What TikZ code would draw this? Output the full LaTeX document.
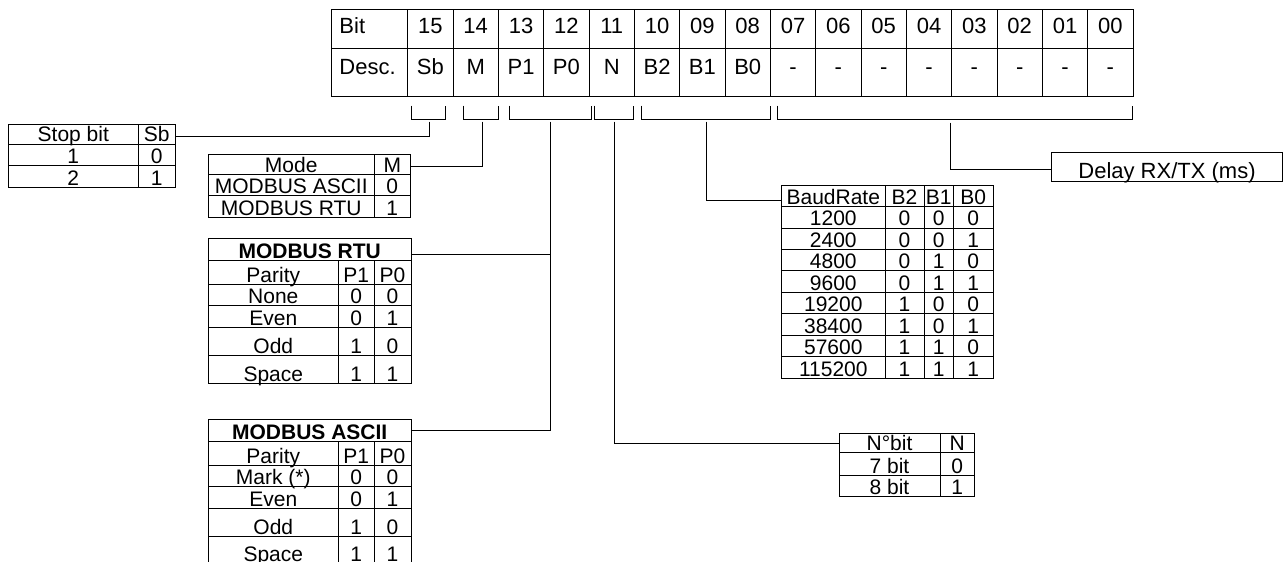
\documentclass[tikz,border=0pt]{standalone}
\usepackage{fontspec}
\setmainfont{Liberation Sans}
\newcommand\fsz{\fontsize{21}{21}\selectfont}
\newcommand\fszb{\fontsize{22}{22}\selectfont}
\begin{document}
\begin{tikzpicture}[x=1pt,y=-1pt,line width=0.9pt,
  t/.style={anchor=base,inner sep=0pt,font=\fsz},
  tm/.style={anchor=base,inner sep=0pt,font=\fszb},
  tb/.style={t,font=\fsz\bfseries},
  conn/.style={line width=0.9pt},
  brk/.style={line width=0.9pt}]
\useasboundingbox (0,0) rectangle (1283,562);

% ---------------- main bit table
\draw (331,9) rectangle (1133,96);
\draw (331,48.5) -- (1133,48.5);
\foreach \i in {0,...,16} \draw ({407.7+45.33*\i},9) -- ({407.7+45.33*\i},96);
\node[tm,anchor=base west] (bit) at (339,34) {Bit};
\node[tm,anchor=base west] (desc) at (339,74) {Desc.};
\foreach \b/\d [count=\i from 0] in {15/Sb,14/M,13/P1,12/P0,11/N,10/B2,09/B1,08/B0,07/-,06/-,05/-,04/-,03/-,02/-,01/-,00/-}
{
  \node[tm] (b\b) at ({430.4+45.33*\i},34) {\b};
  \node[tm] (d\b) at ({430.4+45.33*\i},74) {\d};
}

% ---------------- brackets
\draw[brk] (411,105.7) -- (411,119.3) -- (445.7,119.3) -- (445.7,105.7);
\draw[brk] (463.3,105.7) -- (463.3,119.3) -- (498.3,119.3) -- (498.3,105.7);
\draw[brk] (509,105.7) -- (509,119.3) -- (591.7,119.3) -- (591.7,105.7);
\draw[brk] (594.3,105.7) -- (594.3,119.3) -- (633.3,119.3) -- (633.3,105.7);
\draw[brk] (641.7,105.7) -- (641.7,119.3) -- (770,119.3) -- (770,105.7);
\draw[brk] (777.3,105.7) -- (777.3,119.3) -- (1132.3,119.3) -- (1132.3,105.7);

\coordinate (sbS) at (429,121.7);
\coordinate (mS) at (482.3,121.7);
\coordinate (pS) at (550,121.7);
\coordinate (nS) at (614.3,121.7);
\coordinate (bS) at (706,121.7);
\coordinate (dS) at (950.7,122.7);

% ---------------- Stop bit table
\draw (8.3,124.3) rectangle (175,187.7);
\draw (8.3,144.3) -- (175,144.3);
\draw (8.3,165.7) -- (175,165.7);
\draw (138.3,124.3) -- (138.3,187.7);
\node[t] (sbh) at (73.3,141.7) {Stop bit};
\node[t] (sbhv) at (156.7,141.7) {Sb};
\node[t] (sb1) at (73.3,163.5) {1};
\node[t] (sb1v) at (156.7,163.5) {0};
\node[t] (sb2) at (73.3,185.5) {2};
\node[t] (sb2v) at (156.7,185.5) {1};
\coordinate (sbIn) at (175,136.7);
\draw[conn] (sbS) |- (sbIn);

% ---------------- Mode table
\draw (208.3,154.3) rectangle (410.7,217.7);
\draw (208.3,174.3) -- (410.7,174.3);
\draw (208.3,195) -- (410.7,195);
\draw (374,154.3) -- (374,217.7);
\node[t] (mh) at (291.2,172) {Mode};
\node[t] (mhv) at (392.3,172) {M};
\node[t] (m1) at (291.2,193) {MODBUS ASCII};
\node[t] (m1v) at (392.3,193) {0};
\node[t] (m2) at (291.2,215.5) {MODBUS RTU};
\node[t] (m2v) at (392.3,215.5) {1};
\coordinate (mIn) at (410.7,166.7);
\draw[conn] (mS) |- (mIn);

% ---------------- MODBUS RTU table
\draw (208.3,238.3) rectangle (411,383.3);
\foreach \y in {260.7,284,305.7,327.3,355.7} \draw (208.3,\y) -- (411,\y);
\draw (338.3,260.7) -- (338.3,383.3);
\draw (374,260.7) -- (374,383.3);
\node[tb] (rh) at (309.7,258.5) {MODBUS RTU};
\foreach \a/\p/\q/\y [count=\k] in {Parity/P1/P0/282,None/0/0/303.7,Even/0/1/325.3,Odd/1/0/353.5,Space/1/1/381}
{
  \node[t] (r\k a) at (273.3,\y) {\a};
  \node[t] (r\k p) at (356.2,\y) {\p};
  \node[t] (r\k q) at (392.5,\y) {\q};
}
\coordinate (rIn) at (411,254);

% ---------------- MODBUS ASCII table
\draw (208.3,575) -- (208.3,419.3) -- (411,419.3) -- (411,575);
\foreach \y in {441.7,465,486.7,508.3,536.7} \draw (208.3,\y) -- (411,\y);
\draw (338.3,441.7) -- (338.3,575);
\draw (374,441.7) -- (374,575);
\node[tb] (ah) at (309.7,439.5) {MODBUS ASCII};
\foreach \a/\p/\q/\y [count=\k] in {Parity/P1/P0/463,Mark (*)/0/0/484.7,Even/0/1/506.3,Odd/1/0/534.5,Space/1/1/561}
{
  \node[t] (a\k a) at (273.3,\y) {\a};
  \node[t] (a\k p) at (356.2,\y) {\p};
  \node[t] (a\k q) at (392.5,\y) {\q};
}
\coordinate (aIn) at (411,430.7);
\draw[conn] (pS) |- (aIn);
\draw[conn] (rIn) -- (pS |- rIn);

% ---------------- BaudRate table
\draw (781.7,185) rectangle (993.3,378.3);
\foreach \k in {1,...,8} \draw (781.7,{185+21.48*\k}) -- (993.3,{185+21.48*\k});
\foreach \x in {885,924,953.3} \draw (\x,185) -- (\x,378.3);
\foreach \a/\p/\q/\r [count=\k from 0] in {BaudRate/B2/B1/B0,1200/0/0/0,2400/0/0/1,4800/0/1/0,9600/0/1/1,19200/1/0/0,38400/1/0/1,57600/1/1/0,115200/1/1/1}
{
  \node[t] (br\k a) at (833.3,{185+21.48*(\k+1)-2}) {\a};
  \node[t] (br\k b) at (904.5,{185+21.48*(\k+1)-2}) {\p};
  \node[t] (br\k c) at (938.7,{185+21.48*(\k+1)-2}) {\q};
  \node[t] (br\k d) at (973.3,{185+21.48*(\k+1)-2}) {\r};
}
\coordinate (bIn) at (781.7,200.7);
\draw[conn] (bS) |- (bIn);

% ---------------- N table
\draw (839,433.3) rectangle (974.3,496.7);
\draw (839,452.7) -- (974.3,452.7);
\draw (839,475) -- (974.3,475);
\draw (940,433.3) -- (940,496.7);
\node[t] (nh) at (889.5,450.7) {N°bit};
\node[t] (nhv) at (957.2,450.7) {N};
\node[t] (n1) at (889.5,473) {7 bit};
\node[t] (n1v) at (957.2,473) {0};
\node[t] (n2) at (889.5,494.7) {8 bit};
\node[t] (n2v) at (957.2,494.7) {1};
\coordinate (nIn) at (839,443.3);
\draw[conn] (nS) |- (nIn);

% ---------------- Delay box
\draw (1051,152.7) rectangle (1282,181.7);
\node[tm] (delay) at (1167,178) {Delay RX/TX (ms)};
\coordinate (dIn) at (1051,169);
\draw[conn] (dS) |- (dIn);
\end{tikzpicture}
\end{document}
